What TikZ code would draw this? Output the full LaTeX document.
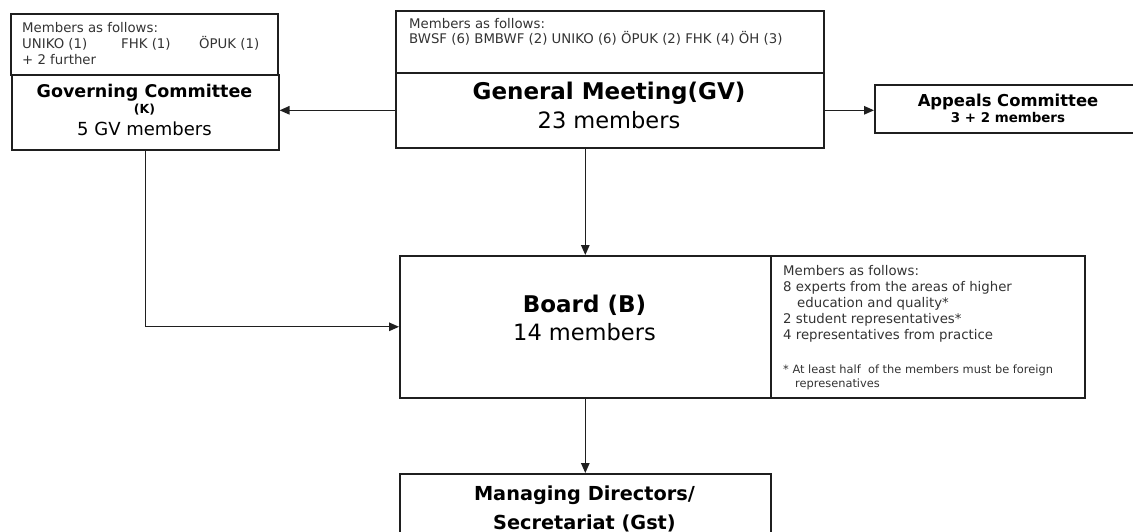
\documentclass[tikz,border=0pt]{standalone}
\usepackage{fontspec}
\setmainfont{DejaVu Sans}
\usetikzlibrary{arrows.meta}
\newcommand\myfs[2]{\fontsize{#1}{#2}\selectfont}
\begin{document}
\begin{tikzpicture}[x=1pt,y=-1pt,
  box/.style={draw=black!88, line width=1.6pt, inner sep=0pt, anchor=north west},
  conn/.style={line width=1.3pt, draw=black!88, -{Triangle[length=10pt,width=8.5pt]}},
  txt/.style={inner sep=0pt, anchor=base west, text=black!80},
  ctr/.style={inner sep=0pt, anchor=base, text=black},
  small/.style={font=\myfs{13.3}{16}},
]
\useasboundingbox (0,0) rectangle (1133,532);

% boxes
\node[box, minimum width=267, minimum height=61] (gcm) at (10,13) {};
\node[box, minimum width=267, minimum height=75] (gc) at (11,74) {};
\node[box, minimum width=428, minimum height=62] (gvm) at (395,10) {};
\node[box, minimum width=428, minimum height=75] (gv) at (395,72) {};
\node[box, minimum width=268, minimum height=48] (ap) at (874,84) {};
\node[box, minimum width=371, minimum height=142] (bd) at (399,255) {};
\node[box, minimum width=314, minimum height=142] (bdm) at (770,255) {};
\node[box, minimum width=371, minimum height=80] (md) at (399,473) {};

% texts
\node[txt, small] (gcmt) at (22,33) {\vtop{\hbox{Members as follows:}\hbox{\rlap{UNIKO (1)}\hskip99pt\rlap{FHK (1)}\hskip78pt ÖPUK (1)}\hbox{+ 2 further}}};
\node[txt, font=\myfs{13.3}{15}] (gvmt) at (409,29) {\vtop{\hbox{Members as follows:}\hbox{BWSF (6) BMBWF (2) UNIKO (6) ÖPUK (2) FHK (4) ÖH (3)}}};

\node[ctr, font=\myfs{17.5}{20}\bfseries] (gct1) at (144.5,98) {Governing Committee};
\node[ctr, font=\myfs{12.5}{14}\bfseries] (gct2) at (144.5,114) {(K)};
\node[ctr, font=\myfs{18}{20}] (gct3) at (144.5,136) {5 GV members};

\node[ctr, font=\myfs{23}{26}\bfseries] (gvt1) at (609,100) {General Meeting(GV)};
\node[ctr, font=\myfs{22.5}{26}] (gvt2) at (609,129) {23 members};

\node[ctr, font=\myfs{16.4}{19}\bfseries] (apt1) at (1008,107) {Appeals Committee};
\node[ctr, font=\myfs{13.4}{16}\bfseries] (apt2) at (1008,123) {3 + 2 members};

\node[ctr, font=\myfs{23}{26}\bfseries] (bdt1) at (584.5,312) {Board (B)};
\node[ctr, font=\myfs{22.5}{26}] (bdt2) at (584.5,340) {14 members};

\node[txt, small] (bdmt) at (783,275) {\vtop{\hbox{Members as follows:}\hbox{8 experts from the areas of higher}\hbox{\hskip14pt education and quality*}\hbox{2 student representatives*}\hbox{4 representatives from practice}}};
\node[txt, font=\myfs{11.4}{14}] (bdfn) at (783,373) {\vtop{\hbox{* At least half\ \ of the members must be foreign}\hbox{\hskip12pt represenatives}}};

\node[ctr, font=\myfs{19.3}{22}\bfseries] (mdt1) at (584.5,500) {Managing Directors/};
\node[ctr, font=\myfs{19.3}{22}\bfseries] (mdt2) at (584.5,529) {Secretariat (Gst)};

% connectors
\draw[conn] (gv.west) -- (gv.west -| gc.east);
\draw[conn] (gv.east) -- (gv.east -| ap.west);
\draw[conn] (bd.north |- gv.south) -- (bd.north);
\draw[conn] (gc.south) -- (gc.south |- bd.west) -- (bd.west);
\draw[conn] (bd.south) -- (md.north);
\end{tikzpicture}
\end{document}
